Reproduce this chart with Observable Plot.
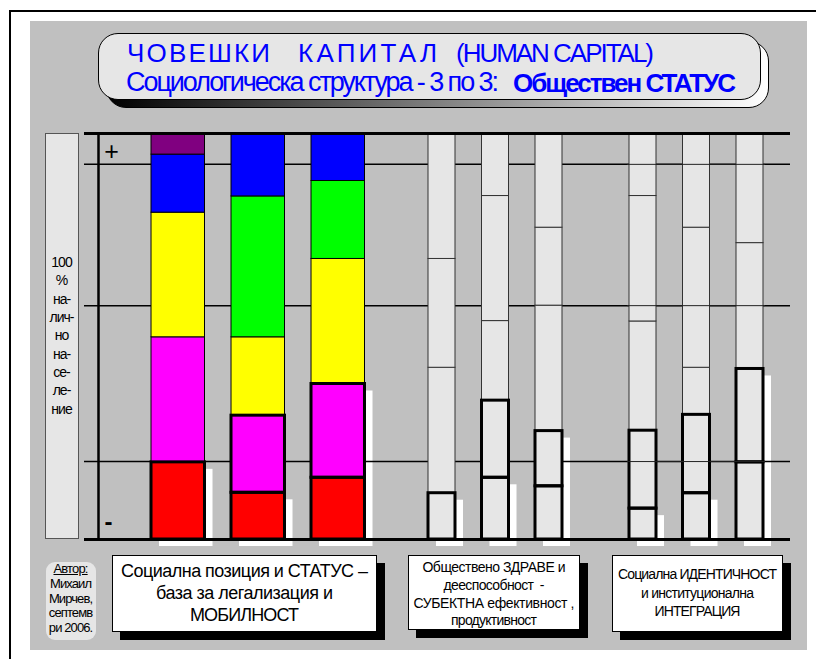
<!DOCTYPE html>
<html><head><meta charset="utf-8">
<script src="https://cdn.jsdelivr.net/npm/d3@7"></script>
<script src="https://cdn.jsdelivr.net/npm/@observablehq/plot@0.6"></script>
<style>
html,body{margin:0;padding:0;background:#fff;}
#page{position:relative;width:816px;height:659px;overflow:hidden;font-family:"Liberation Sans",Arial,sans-serif;}
.abs{position:absolute;box-sizing:border-box;}
.txt{position:absolute;white-space:pre;line-height:1;}
#chart{position:absolute;left:30px;top:125px;z-index:2;}
</style></head><body><div id="page"><div id="chart"></div></div>
<script>
// ---------------- DATA ----------------
const titleLine1 = ["ЧОВЕШКИ", "КАПИТАЛ", "(HUMAN CAPITAL)"];
const titleLine2 = ["Социологическа структура - 3 по 3:", "Обществен СТАТУС"];
const yAxisLabel = ["100", "%", "на-", "лич-", "но", "на-", "се-", "ле-", "ние"];
const authorLines = ["Автор:", "Михаил", "Мирчев,", "септемв", "ри 2006."];
const groupLabels = [
  ["Социална позиция и СТАТУС –", "база за легализация и", "МОБИЛНОСТ"],
  ["Обществено ЗДРАВЕ и", "дееспособност  -", "СУБЕКТНА ефективност ,", "продуктивност"],
  ["Социална ИДЕНТИЧНОСТ", "и институционална", "ИНТЕГРАЦИЯ"]
];
// status layers, bottom to top
const statusLayers = ["red", "magenta", "yellow", "green", "blue", "purple"];
const statusColors = ["#ff0000", "#ff00ff", "#ffff00", "#00ff00", "#0000ff", "#800080"];
// % of population per layer (bottom -> top), three bars per group
const statusValues = [
  [19.0, 30.8, 30.7, 0, 14.3, 5.2],
  [11.5, 19.0, 19.3, 34.7, 15.5, 0],
  [15.2, 23.1, 30.8, 19.2, 11.7, 0]
];
const healthValues = [
  [11.4, 30.9, 26.8, 30.9],
  [15.2, 19.0, 19.6, 30.8, 15.4],
  [13.1, 13.6, 30.9, 19.2, 23.2]
];
const identityValues = [
  [7.6, 19.2, 26.9, 30.9, 15.4],
  [11.4, 19.3, 11.6, 34.5, 23.2],
  [19.0, 23.0, 31.0, 27.0]
];
// how many bottom segments are outlined in bold / carry the white shadow
const thickCounts = [[1, 2, 2], [1, 2, 2], [2, 2, 2]];
const shadowCounts = [[1, 1, 2], [1, 1, 2], [1, 1, 2]];
const levelLines = [19.2, 57.6, 92.4];

// ---------------- LAYOUT (page px) ----------------
const L = {
  groupStart: [151, 428, 629], step: [80, 53.5, 53.5], width: [53.5, 27, 27],
  lineX: [84, 790], axisX: 98
};
const grayFill = "#e6e6e6";

const page = document.getElementById("page");
function box(x, y, w, h, style) {
  const d = document.createElement("div"); d.className = "abs";
  Object.assign(d.style, {left: x + "px", top: y + "px", width: w + "px", height: h + "px"}, style || {});
  page.appendChild(d); return d;
}
function text(t, o) {
  const size = o.size, el = document.createElement("div");
  el.className = "txt"; el.textContent = t;
  el.style.fontSize = size + "px"; el.style.fontWeight = o.weight || "normal";
  el.style.color = o.color || "#000";
  if (o.underline) el.style.textDecoration = "underline";
  page.appendChild(el);
  const n = [...t].length;
  let ls = o.ls || 0;
  if (o.width) {
    const w0 = el.getBoundingClientRect().width;
    ls = (o.width - w0) / Math.max(1, n - 1);
    if (o.minLs !== undefined) ls = Math.max(o.minLs, ls);
  }
  el.style.letterSpacing = ls + "px";
  const vis = el.getBoundingClientRect().width - ls;
  const left = o.anchor === "start" ? o.x : o.x - vis / 2;
  el.style.left = left + "px";
  el.style.top = (o.baseline - 0.8465 * size) + "px";
  return el;
}

// frame + panel
box(10, 10, 806, 2, {background: "#000"});
box(9, 10, 2, 649, {background: "#000"});
box(30, 21, 777, 629, {background: "#c0c0c0"});

// title box
box(106, 41, 663, 67, {borderRadius: "20px", background: "linear-gradient(to right,#000,#fff)", border: "1px solid #000"});
box(98, 33, 663, 67, {borderRadius: "20px", background: "#e6e6e6", border: "1px solid #000"});
text(titleLine1[0], {x: 127, baseline: 62, size: 26, color: "#0000ff", anchor: "start", width: 143});
text(titleLine1[1], {x: 298, baseline: 62, size: 26, color: "#0000ff", anchor: "start", width: 139});
text(titleLine1[2], {x: 456, baseline: 62, size: 26, color: "#0000ff", anchor: "start", width: 198});
text(titleLine2[0], {x: 126, baseline: 92, size: 27, color: "#0000ff", anchor: "start", width: 373});
text(titleLine2[1], {x: 513, baseline: 92, size: 26, color: "#0000ff", anchor: "start", width: 223, weight: "bold"});

// y label box
box(45, 133, 34, 406, {background: grayFill, border: "1px solid #555"});
yAxisLabel.forEach((t, i) => text(t, {x: 62, baseline: 267 + i * 18.3, size: 14, ls: -1}));

// author box
box(46, 562, 50, 78, {background: grayFill, borderRadius: "9px"});
const authW = [35, 36, 44, 43.6, 44];
authorLines.forEach((t, i) => text(t, {x: 71, baseline: 573 + i * 14.8, size: 13, width: authW[i], minLs: -0.9, underline: i === 0}));

// group label boxes
const gBoxes = [[112, 555, 265, 77], [408, 555, 172, 75], [612, 555, 171, 77]];
const gText = [
  {size: 18, base: 577, lh: 22, w: [247, 177, 109]},
  {size: 14, base: 572, lh: 17.7, w: [143, 101, 161, 86]},
  {size: 14, base: 579, lh: 18.5, w: [159, 113, 86]}
];
gBoxes.forEach(([x, y, w, h], g) => {
  box(x + 8, y + 8, w, h, {background: "#000"});
  box(x, y, w, h, {background: "#fff", border: "1px solid #000"});
  groupLabels[g].forEach((t, i) => text(t, {x: x + w / 2, baseline: gText[g].base + i * gText[g].lh, size: gText[g].size, width: gText[g].w[i]}));
});

// ---------------- BARS ----------------
const groupValues = [statusValues, healthValues, identityValues];
const segs = [], thick = [], shadows = [];
groupValues.forEach((bars, g) => bars.forEach((vals, b) => {
  const x1 = L.groupStart[g] + b * L.step[g], x2 = x1 + L.width[g];
  let acc = 0, idx = 0, shadowTop = 0;
  vals.forEach((v, i) => {
    if (!v) return;
    const seg = {g, b, x1, x2, y1: acc, y2: acc + v, fill: g === 0 ? statusColors[i] : grayFill, layer: g === 0 ? statusLayers[i] : "segment " + (idx + 1)};
    segs.push(seg);
    if (idx < thickCounts[g][b]) thick.push(seg);
    if (idx < shadowCounts[g][b]) shadowTop = acc + v;
    idx++; acc += v;
  });
  shadows.push({x1, x2, y1: 0, y2: shadowTop});
}));
const g3x1 = L.groupStart[2] - 2, g3x2 = L.groupStart[2] + 2 * L.step[2] + L.width[2] + 2;
const rectOpts = {x1: "x1", x2: "x2", y1: "y1", y2: "y2"};

const chart = Plot.plot({
  width: 777, height: 425,
  marginTop: 8, marginBottom: 11, marginLeft: 0, marginRight: 0,
  x: {domain: [30, 807], axis: null},
  y: {domain: [0, 100], axis: null},
  color: {type: "identity"},
  style: {background: "transparent", overflow: "visible", fontFamily: "Liberation Sans, Arial, sans-serif"},
  marks: [
    Plot.rect(shadows, {...rectOpts, fill: "white", dx: 8, dy: 7}),
    Plot.ruleY(levelLines, {x1: () => L.lineX[0], x2: () => L.lineX[1], stroke: "black", strokeWidth: 1.5}),
    Plot.rect(segs.filter(d => d.g === 0), {...rectOpts, fill: "fill", stroke: "black", strokeWidth: 1}),
    Plot.rect(segs.filter(d => d.g > 0), {...rectOpts, fill: grayFill, stroke: "#333", strokeWidth: 1}),
    Plot.rect(thick, {...rectOpts, fill: "none", stroke: "black", strokeWidth: 3}),
    Plot.ruleY(levelLines, {x1: () => g3x1, x2: () => g3x2, stroke: "#222", strokeWidth: 1}),
    Plot.ruleX([L.axisX], {y1: 0, y2: 100, stroke: "black", strokeWidth: 2.5}),
    Plot.ruleY([0, 100], {x1: () => L.lineX[0], x2: () => L.lineX[1], stroke: "black", strokeWidth: 3}),
    Plot.text(["+"], {x: () => L.axisX + 13, y: () => 100, dy: 18, fontSize: 25, fill: "black"}),
    Plot.text(["-"], {x: () => L.axisX + 10, y: () => 0, dy: -17, fontSize: 24, fontWeight: "bold", fill: "black"})
  ]
});
document.getElementById("chart").appendChild(chart);
</script>
</body></html>
